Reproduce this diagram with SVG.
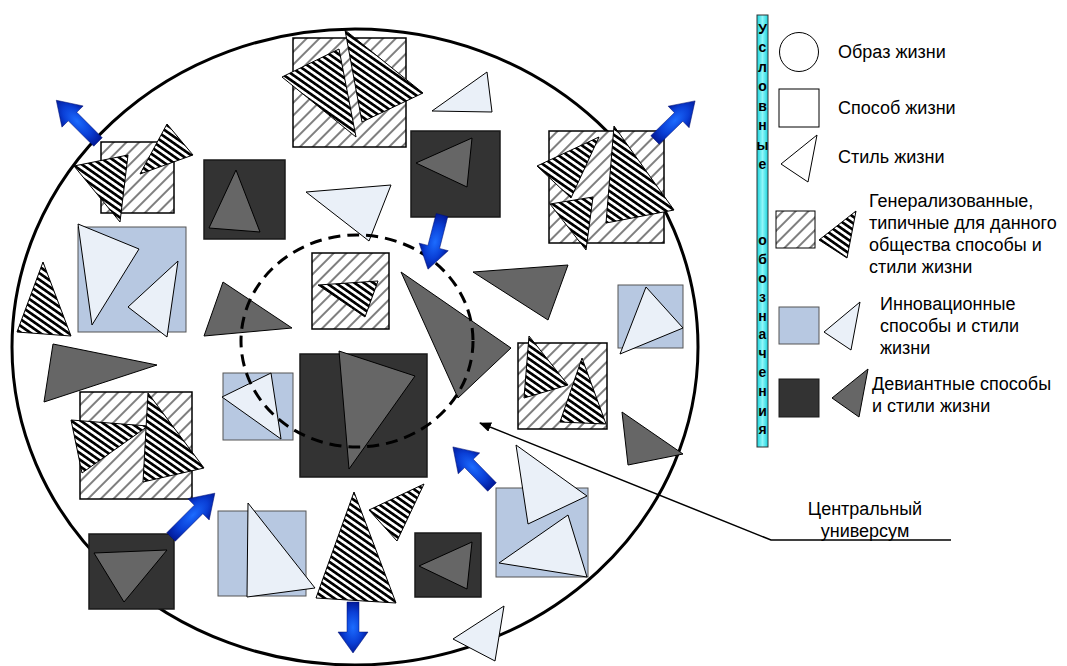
<svg xmlns="http://www.w3.org/2000/svg" width="1067" height="666" viewBox="0 0 1067 666">
<defs>
<pattern id="hatch" width="9" height="9" patternUnits="userSpaceOnUse" patternTransform="rotate(45)"><rect width="9" height="9" fill="#fff"/><line x1="1" y1="0" x2="1" y2="9" stroke="#000" stroke-width="1"/></pattern>
<pattern id="stripes" width="5.4" height="5.4" patternUnits="userSpaceOnUse" patternTransform="rotate(35)"><rect width="5.4" height="5.4" fill="#fff"/><rect width="5.4" height="2.7" fill="#000"/></pattern>
<radialGradient id="blue" cx="0.5" cy="0.5" r="0.55"><stop offset="0" stop-color="#1c6cff"/><stop offset="0.55" stop-color="#0a3fd6"/><stop offset="1" stop-color="#00128c"/></radialGradient>
<linearGradient id="cyan" x1="0" y1="0" x2="1" y2="0"><stop offset="0" stop-color="#19d3dc"/><stop offset="0.5" stop-color="#8ff6f9"/><stop offset="1" stop-color="#19d3dc"/></linearGradient>
<marker id="ah" markerWidth="12" markerHeight="10" refX="11" refY="5" orient="auto" markerUnits="userSpaceOnUse"><path d="M0,0 L12,5 L0,10 Z" fill="#000"/></marker>
<style>
.hs{fill:url(#hatch);stroke:#000;stroke-width:1.5}
.st{fill:url(#stripes);stroke:#000;stroke-width:1}
.ds{fill:#333;stroke:#1a1a1a;stroke-width:1.5}
.dt{fill:#666;stroke:#000;stroke-width:1}
.ls{fill:#b7c8e1;stroke:#555;stroke-width:1}
.lt{fill:#eaf0f8;stroke:#000;stroke-width:1}
.wt{fill:#fff;stroke:#000;stroke-width:1}
.arr{fill:url(#blue);stroke:#001070;stroke-width:0.5}
.lbl{font-family:"Liberation Sans",Arial,sans-serif;font-size:18px;fill:#000}
.vt{font-family:"Liberation Sans",Arial,sans-serif;font-size:14px;font-weight:bold;fill:#000;text-anchor:middle}
</style>
</defs>
<rect width="1067" height="666" fill="#fff"/>

<g id="universe">
<ellipse cx="355" cy="347" rx="343" ry="318" fill="none" stroke="#000" stroke-width="3"/>
</g>

<g id="nodeA"><rect class="hs" x="101" y="142" width="73" height="71"/>
<polygon class="st" points="74,166 128,155 120,222"/>
<polygon class="st" points="140,174 167,124 193,155"/></g>

<g id="nodeB"><rect class="ds" x="204" y="160" width="81" height="79"/>
<polygon class="dt" points="209,228 236,170 260,232"/></g>

<g id="nodeC"><rect class="hs" x="293" y="38" width="113" height="109"/>
<polygon class="st" points="282,77 339,49 356,137"/>
<polygon class="st" points="345,30 423,93 362,122"/></g>

<g id="nodeD"><polygon class="lt" points="432,111 487,72 492,112"/></g>

<g id="nodeE"><rect class="ds" x="411" y="131" width="89" height="86"/>
<polygon class="dt" points="416,163 472,138 467,187"/></g>

<g id="nodeF"><polygon class="lt" points="306,192 391,185 369,241"/></g>

<g id="nodeG"><rect class="hs" x="549" y="131" width="115" height="112"/>
<polygon class="st" points="537,166 599,137 571,198"/>
<polygon class="st" points="550,204 593,197 586,250"/>
<polygon class="st" points="614,126 674,210 606,223"/></g>

<g id="nodeH"><rect class="ls" x="78" y="227" width="108" height="105"/>
<polygon class="lt" points="78,224 139,249 92,325"/>
<polygon class="lt" points="128,307 178,261 167,337"/></g>

<g id="nodeI"><polygon class="st" points="17,332 43,262 71,336"/></g>
<g id="nodeJ"><polygon class="dt" points="53,344 157,365 44,402"/></g>
<g id="nodeK"><polygon class="dt" points="204,336 223,282 292,328"/></g>

<g id="nodeN"><rect class="hs" x="312" y="253" width="77" height="76"/>
<polygon class="st" points="318,285 378,281 365,317"/></g>

<g id="nodeP"><polygon class="dt" points="401,272 511,348 458,398"/></g>
<g id="nodeQ"><polygon class="dt" points="473,272 568,265 548,320"/></g>

<g id="nodeR"><rect class="ls" x="618" y="285" width="65" height="63"/>
<polygon class="lt" points="620,354 646,287 683,328"/></g>

<g id="nodeS"><rect class="hs" x="518" y="343" width="89" height="86"/>
<polygon class="st" points="529,336 568,385 524,398"/>
<polygon class="st" points="582,358 606,424 560,422"/></g>

<g id="nodeT"><polygon class="dt" points="622,412 683,454 628,465"/></g>

<g id="nodeM"><rect class="ls" x="223" y="373" width="70" height="67"/>
<polygon class="lt" points="222,397 271,373 281,439"/></g>

<g id="nodeO"><rect class="ds" x="300" y="354" width="127" height="123"/>
<polygon class="dt" points="339,351 415,376 349,469"/></g>

<g id="nodeL"><rect class="hs" x="80" y="392" width="112" height="107"/>
<polygon class="st" points="71,420 148,426 82,473"/>
<polygon class="st" points="148,393 204,468 143,482"/></g>

<g id="nodeV"><rect class="ds" x="89" y="534" width="85" height="75"/>
<polygon class="dt" points="94,553 167,550 124,602"/></g>

<g id="nodeW"><rect class="ls" x="218" y="511" width="88" height="85"/>
<polygon class="lt" points="248,503 315,588 247,597"/></g>

<g id="nodeX"><polygon class="st" points="354,492 396,603 316,598"/></g>
<g id="nodeY"><polygon class="st" points="369,510 424,484 397,541"/></g>

<g id="nodeZ"><rect class="ds" x="415" y="533" width="66" height="64"/>
<polygon class="dt" points="419,566 472,542 467,589"/></g>

<g id="nodeU"><rect class="ls" x="496" y="488" width="92" height="89"/>
<polygon class="lt" points="516,445 587,496 528,524"/>
<polygon class="lt" points="499,563 568,515 587,577"/></g>

<g id="nodeBottom"><polygon class="lt" points="453,639 504,606 495,661"/></g>

<g id="central">
<ellipse cx="357" cy="341" rx="116" ry="106" fill="none" stroke="#000" stroke-width="3" stroke-dasharray="12,7"/>
</g>

<g id="connectors">
<path class="arr" transform="translate(98,142) rotate(-135)" d="M0,-6 H36 V-15 L59,0 L36,15 V6 H0 Z"/>
<path class="arr" transform="translate(655,140) rotate(-44.3)" d="M0,-6 H33 V-15 L56,0 L33,15 V6 H0 Z"/>
<path class="arr" transform="translate(442,215) rotate(104.5)" d="M0,-6 H33 V-15 L56,0 L33,15 V6 H0 Z"/>
<path class="arr" transform="translate(492,487) rotate(-134.3)" d="M0,-6 H33 V-15 L56,0 L33,15 V6 H0 Z"/>
<path class="arr" transform="translate(171,537) rotate(-45)" d="M0,-6 H39 V-15 L62,0 L39,15 V6 H0 Z"/>
<path class="arr" transform="translate(353,602) rotate(90)" d="M0,-6 H30 V-15 L51,0 L30,15 V6 H0 Z"/>
<polyline points="951,540 771,540 480,423" fill="none" stroke="#000" stroke-width="1.5" marker-end="url(#ah)"/>
</g>

<g id="central-label">
<text class="lbl" x="865" y="515" text-anchor="middle">Центральный</text>
<text class="lbl" x="865" y="537" text-anchor="middle">универсум</text>
</g>

<g id="legend">
<rect x="757" y="15" width="11" height="432" fill="url(#cyan)" stroke="#333" stroke-width="1"/>
<text class="vt" x="762.5" y="34">У</text>
<text class="vt" x="762.5" y="52">с</text>
<text class="vt" x="762.5" y="72">л</text>
<text class="vt" x="762.5" y="91">о</text>
<text class="vt" x="762.5" y="111">в</text>
<text class="vt" x="762.5" y="130">н</text>
<text class="vt" x="762.5" y="150">ы</text>
<text class="vt" x="762.5" y="169">е</text>
<text class="vt" x="762.5" y="245">о</text>
<text class="vt" x="762.5" y="264">б</text>
<text class="vt" x="762.5" y="283">о</text>
<text class="vt" x="762.5" y="302">з</text>
<text class="vt" x="762.5" y="321">н</text>
<text class="vt" x="762.5" y="339">а</text>
<text class="vt" x="762.5" y="358">ч</text>
<text class="vt" x="762.5" y="377">е</text>
<text class="vt" x="762.5" y="396">н</text>
<text class="vt" x="762.5" y="416">и</text>
<text class="vt" x="762.5" y="434">я</text>

<g id="legend-lifestyle-way"><circle cx="799" cy="52" r="19.5" class="wt"/>
<text class="lbl" x="838" y="58">Образ жизни</text></g>
<g id="legend-mode"><rect x="779" y="89" width="40" height="38" class="wt"/>
<text class="lbl" x="838" y="114">Способ жизни</text></g>
<g id="legend-style"><polygon class="wt" points="781,164 817,135 808,182"/>
<text class="lbl" x="838" y="163">Стиль жизни</text></g>
<g id="legend-general"><rect class="hs" x="776" y="211" width="39" height="37" style="stroke-width:1"/>
<polygon class="st" points="819,240 856,211 847,258"/>
<text class="lbl" x="869" y="207">Генерализованные,</text>
<text class="lbl" x="869" y="229">типичные для данного</text>
<text class="lbl" x="869" y="251">общества способы и</text>
<text class="lbl" x="869" y="273">стили жизни</text></g>
<g id="legend-innov"><rect class="ls" x="779" y="307" width="40" height="37"/>
<polygon class="lt" points="824,332 860,302 851,350"/>
<text class="lbl" x="880" y="310">Инновационные</text>
<text class="lbl" x="880" y="332">способы и стили</text>
<text class="lbl" x="880" y="354">жизни</text></g>
<g id="legend-deviant"><rect class="ds" x="779" y="379" width="40" height="38" style="stroke-width:1"/>
<polygon class="dt" points="832,398 868,369 859,417"/>
<text class="lbl" x="872" y="390">Девиантные способы</text>
<text class="lbl" x="872" y="412">и стили жизни</text></g>
</g>
</svg>
